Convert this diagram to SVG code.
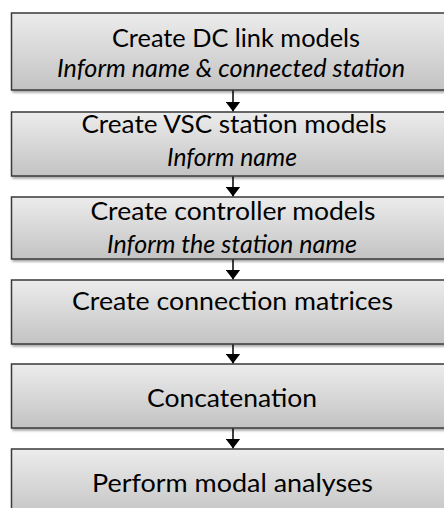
<svg xmlns="http://www.w3.org/2000/svg" width="444" height="508" viewBox="0 0 444 508">
  <defs>
    <linearGradient id="g" x1="0" y1="0" x2="0" y2="1">
      <stop offset="0" stop-color="#ececec"/>
      <stop offset="1" stop-color="#c3c3c3"/>
    </linearGradient>
    <filter id="sh" x="-5%" y="-10%" width="115%" height="130%">
      <feDropShadow dx="1.5" dy="2" stdDeviation="1.2" flood-color="#000" flood-opacity="0.35"/>
    </filter>
    <marker id="ah" viewBox="0 0 10 15" refX="10" refY="7.5" markerWidth="10" markerHeight="15" markerUnits="userSpaceOnUse" orient="auto">
      <path d="M0,0 L10,7.5 L0,15 Z" fill="#000"/>
    </marker>
  </defs>
  <style>
    .box { fill: url(#g); stroke: #3a3a3a; stroke-width: 1.5; filter: url(#sh); }
    .t { font-family: Lato, "Open Sans", "Liberation Sans", sans-serif; font-size: 25.5px; fill: #000; text-anchor: middle; }
    .s { font-style: italic; }
    .c { stroke: #000; stroke-width: 1.5; fill: none; marker-end: url(#ah); }
  </style>
  <rect width="444" height="508" fill="#fff"/>
  <g id="connectors">
    <line class="c" x1="233" y1="90" x2="233" y2="111.5"/>
    <line class="c" x1="233" y1="176" x2="233" y2="196.5"/>
    <line class="c" x1="233" y1="259" x2="233" y2="279.5"/>
    <line class="c" x1="233" y1="344" x2="233" y2="363.5"/>
    <line class="c" x1="233" y1="428" x2="233" y2="448.5"/>
  </g>
  <g id="n1">
    <rect class="box" x="11.5" y="13" width="445" height="77"/>
    <text class="t" x="236" y="47" textLength="248" lengthAdjust="spacingAndGlyphs">Create DC link models</text>
    <text class="t s" x="231" y="77" textLength="348" lengthAdjust="spacingAndGlyphs">Inform name &amp; connected station</text>
  </g>
  <g id="n2">
    <rect class="box" x="11.5" y="112" width="445" height="64"/>
    <text class="t" x="234" y="133" textLength="305" lengthAdjust="spacingAndGlyphs">Create VSC station models</text>
    <text class="t s" x="232" y="166" textLength="130" lengthAdjust="spacingAndGlyphs">Inform name</text>
  </g>
  <g id="n3">
    <rect class="box" x="11.5" y="197" width="445" height="62"/>
    <text class="t" x="233" y="220" textLength="285" lengthAdjust="spacingAndGlyphs">Create controller models</text>
    <text class="t s" x="232" y="253" textLength="250" lengthAdjust="spacingAndGlyphs">Inform the station name</text>
  </g>
  <g id="n4">
    <rect class="box" x="11.5" y="280" width="445" height="64"/>
    <text class="t" x="232.5" y="310" textLength="321" lengthAdjust="spacingAndGlyphs">Create connection matrices</text>
  </g>
  <g id="n5">
    <rect class="box" x="11.5" y="364" width="445" height="64"/>
    <text class="t" x="232" y="407" textLength="170" lengthAdjust="spacingAndGlyphs">Concatenation</text>
  </g>
  <g id="n6">
    <rect class="box" x="11.5" y="449" width="445" height="70"/>
    <text class="t" x="232.5" y="492" textLength="281" lengthAdjust="spacingAndGlyphs">Perform modal analyses</text>
  </g>
</svg>
